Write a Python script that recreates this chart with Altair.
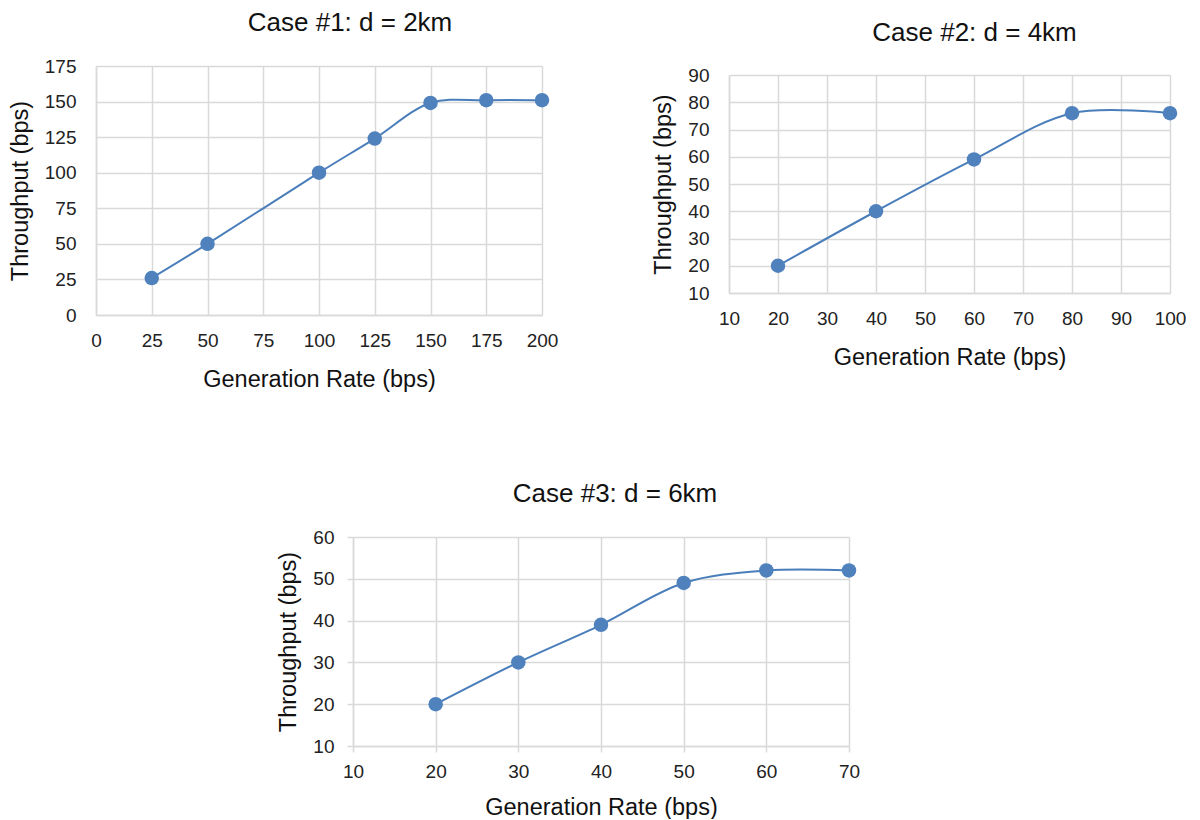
import altair as alt
import pandas as pd

# ---- data ----
c1_rate = [25, 50, 100, 125, 150, 175, 200]
c1_thr = [26, 50, 100, 124, 149, 151, 151]
c1_xticks = [0, 25, 50, 75, 100, 125, 150, 175, 200]
c1_yticks = [0, 25, 50, 75, 100, 125, 150, 175]

c2_rate = [20, 40, 60, 80, 100]
c2_thr = [20, 40, 59, 76, 76]
c2_xticks = [10, 20, 30, 40, 50, 60, 70, 80, 90, 100]
c2_yticks = [10, 20, 30, 40, 50, 60, 70, 80, 90]

c3_rate = [20, 30, 40, 50, 60, 70]
c3_thr = [20, 30, 39, 49, 52, 52]
c3_xticks = [10, 20, 30, 40, 50, 60, 70]
c3_yticks = [10, 20, 30, 40, 50, 60]

titles = ["Case #1: d = 2km", "Case #2: d = 4km", "Case #3: d = 6km"]
x_title = "Generation Rate (bps)"
y_title = "Throughput (bps)"

LINE = "#4A7EBB"
DOT = "#4F81BD"
FONT = "Liberation Sans"


def panel(rate, thr, xticks, yticks, title, w, h, dx, toff, ticks, xtp):
    df = pd.DataFrame({"rate": rate, "thr": thr})
    lp_x = 10 if ticks else 16
    lp_y = 13 if ticks else 20
    base = alt.Chart(df).encode(
        x=alt.X(
            "rate:Q",
            scale=alt.Scale(domain=[xticks[0], xticks[-1]], nice=False, zero=False),
            axis=alt.Axis(values=xticks, title=x_title, ticks=ticks, tickSize=6,
                          labelPadding=lp_x, titlePadding=xtp, labelFlush=False),
        ),
        y=alt.Y(
            "thr:Q",
            scale=alt.Scale(domain=[yticks[0], yticks[-1]], nice=False, zero=False),
            axis=alt.Axis(values=yticks, title=y_title, ticks=ticks, tickSize=6,
                          labelPadding=lp_y, titlePadding=12, labelFlush=False),
        ),
    )
    line = base.mark_line(interpolate="catmull-rom", color=LINE, strokeWidth=2)
    pts = base.mark_point(filled=True, size=210, color=DOT, opacity=1)
    return alt.layer(
        line, pts,
        title=alt.TitleParams(title, dx=dx, offset=toff),
    ).properties(width=w, height=h)


def spacer(w, h):
    return alt.Chart(pd.DataFrame({"v": [0]})).mark_point(opacity=0, size=0).properties(width=w, height=h)


p1 = panel(c1_rate, c1_thr, c1_xticks, c1_yticks, titles[0], 446, 249, 31, 21, False, 17)
p2 = panel(c2_rate, c2_thr, c2_xticks, c2_yticks, titles[1], 441, 218, 25, 20, False, 17)
p3 = panel(c3_rate, c3_thr, c3_xticks, c3_yticks, titles[2], 496, 209, 14, 21, True, 14)

col2 = alt.vconcat(spacer(1, 1), p2, spacing=-47)
row1 = alt.hconcat(p1, col2, spacing=93)
row2 = alt.hconcat(spacer(1, 1), p3, spacing=179)

chart = alt.vconcat(row1, row2, spacing=90).properties(
    padding={"left": 0, "top": 2, "right": 0, "bottom": 0}
).configure_view(stroke=None).configure_axis(
    gridColor="#D9D9D9", gridWidth=1.5, domainColor="#D9D9D9", domainWidth=1.5,
    tickColor="#D9D9D9", tickWidth=1.5,
    labelFont=FONT, labelFontSize=19, labelColor="#222222",
    titleFont=FONT, titleFontSize=23.5, titleColor="#111111", titleFontWeight="normal",
).configure_title(
    font=FONT, fontSize=26, fontWeight="normal", color="#111111", anchor="middle"
).configure_concat(spacing=0)

chart.save("out.html", embed_options={"renderer": "svg", "actions": False})
